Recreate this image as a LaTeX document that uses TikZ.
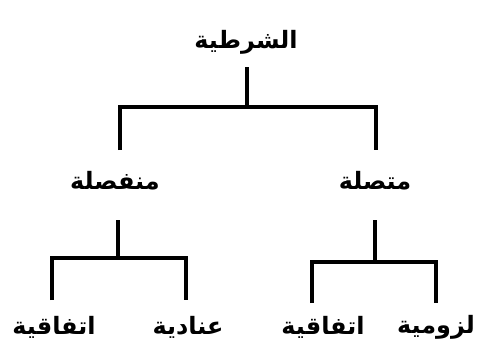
\documentclass[tikz,border=0pt]{standalone}
\usepackage{fontspec}
\newfontfamily\arabicfont[Script=Arabic]{DejaVu Sans}
\TeXXeTstate=1
\begin{document}
\begin{tikzpicture}[x=1bp,y=-1bp,
  lbl/.style={font=\arabicfont\bfseries\fontsize{24}{28}\selectfont, inner sep=0pt},
  tree/.style={line width=3.6bp, line cap=butt, line join=miter}]
\useasboundingbox (0,0) rectangle (479,352);
% labels
\node[lbl] (root) at (246,42) {\beginR الشرطية\endR};
\node[lbl] (left) at (115,181) {\beginR منفصلة\endR};
\node[lbl] (right) at (375,181) {\beginR متصلة\endR};
\node[lbl] (l1) at (54,327) {\beginR اتفاقية\endR};
\node[lbl] (l2) at (188,327) {\beginR عنادية\endR};
\node[lbl] (r1) at (323,327) {\beginR اتفاقية\endR};
\node[lbl] (r2) at (436,327) {\beginR لزومية\endR};
% skeleton coordinates
\coordinate (j0) at (247,107);
\coordinate (a1) at (120,150);
\coordinate (a2) at (376,150);
\coordinate (jl) at (118,258);
\coordinate (jr) at (375,262);
\coordinate (b1) at (52,300);
\coordinate (b2) at (186,300);
\coordinate (c1) at (312,303);
\coordinate (c2) at (436,303);
% connectors
\draw[tree, shorten <=25bp] (j0 |- root.center) -- (j0);
\draw[tree] (a1) |- (j0) -| (a2);
\draw[tree, shorten <=39bp] (jl |- left.center) -- (jl);
\draw[tree] (b1) |- (jl) -| (b2);
\draw[tree, shorten <=39bp] (jr |- right.center) -- (jr);
\draw[tree] (c1) |- (jr) -| (c2);
\end{tikzpicture}
\end{document}
